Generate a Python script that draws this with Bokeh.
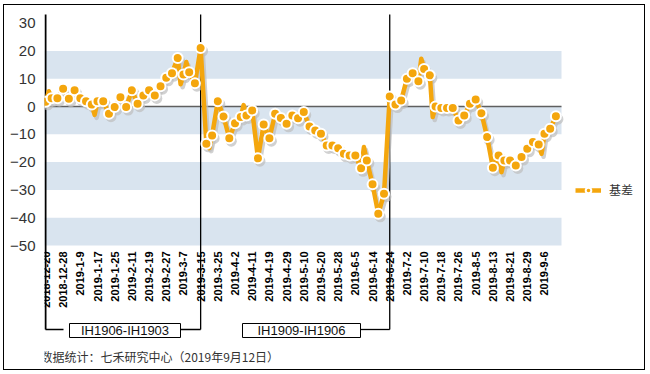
import numpy as np
from bokeh.plotting import figure
from bokeh.models import Range1d, FixedTicker, BoxAnnotation, Legend, LegendItem, ColumnDataSource
from bokeh.core.properties import value
from bokeh.embed import file_html
from bokeh.resources import INLINE

# ---------------- data ----------------
tick_labels = ["2018-12-20", "2018-12-28", "2019-1-9", "2019-1-17", "2019-1-25",
               "2019-2-11", "2019-2-19", "2019-2-27", "2019-3-7", "2019-3-15",
               "2019-3-25", "2019-4-2", "2019-4-11", "2019-4-19", "2019-4-29",
               "2019-5-10", "2019-5-20", "2019-5-28", "2019-6-5", "2019-6-14",
               "2019-6-24", "2019-7-2", "2019-7-10", "2019-7-18", "2019-7-26",
               "2019-8-5", "2019-8-13", "2019-8-21", "2019-8-29", "2019-9-6"]
tick_days = [0, 6, 12, 18, 24, 30, 36, 42, 48, 54, 60, 66, 72, 78, 84,
             90, 96, 102, 108, 114, 120, 126, 132, 138, 144, 150, 156, 162, 168, 174]

# trading-day number and basis value
days = [0, 1, 2, 4, 6, 8, 10, 12, 14, 16, 17, 18, 20, 22, 24, 26, 28, 30, 32, 34,
        36, 38, 40, 42, 44, 46, 47, 48, 49, 50, 52, 54, 56, 57, 58, 60, 62, 64, 66,
        68, 69, 70, 72, 74, 76, 78, 80, 82, 84, 86, 88, 90, 92, 94, 96, 98, 100,
        102, 104, 106, 108, 110, 111, 112, 114, 116, 118, 120, 122, 124, 126, 128,
        130, 131, 132, 134, 135, 136, 138, 140, 142, 144, 146, 148, 150, 152, 154,
        156, 158, 159, 160, 162, 164, 166, 168, 170, 172, 173, 174, 176, 178]
basis = [1.7, 5.5, 3.0, 3.0, 6.4, 2.8, 5.8, 3.0, 1.9, 0.7, -3.0, 1.9, 1.9, -2.6, -0.2,
         3.3, -0.2, 5.8, 1.0, 4.0, 5.8, 4.0, 7.3, 10.3, 12.0, 17.4, 8.0, 11.5, 16.0,
         12.3, 8.4, 21.0, -13.4, -15.0, -10.4, 1.9, -3.6, -11.4, -6.0, -3.8, 0.5,
         -3.2, -1.4, -18.6, -6.5, -11.4, -2.6, -4.1, -6.2, -3.2, -4.2, -2.0, -7.2,
         -8.6, -9.8, -14.0, -14.0, -15.0, -17.0, -17.6, -17.6, -22.2, -14.6, -19.4,
         -28.0, -38.6, -31.4, 3.6, 0.7, 2.2, 10.0, 12.0, 9.1, 17.2, 13.5, 11.2, -3.8,
         0.0, -0.5, -0.5, -0.5, -5.0, -3.2, 1.0, 2.5, -2.4, -11.0, -22.0, -17.6,
         -23.6, -19.4, -19.4, -21.2, -18.2, -15.2, -12.8, -13.7, -17.0, -9.8, -8.0, -3.5]

contract_splits = [0, 54, 120]
contract_names = ["IH1906-IH1903", "IH1909-IH1906"]
series_name = "基差"
source_note = "数据统计：七禾研究中心（2019年9月12日）"
y_ticks = [-50, -40, -30, -20, -10, 0, 10, 20, 30]
band_ranges = [(10, 20), (-10, 0), (-30, -20), (-50, -40)]

# ---------------- layout / styling ----------------
ORANGE = "#F4A60D"
SHADOW = "#bdbdbd"
BAND = "#d9e4ef"
LATIN = "Liberation Sans"
CJK = "Noto Sans CJK SC"

W, H = 642, 366               # canvas size (inside 1px border)
OX, OY = 4, 5                 # canvas origin on page
FRAME_L = 44                  # page x of plot frame left
PX_X = 2.865                  # px per trading day
PX_Y = 2.781                  # px per basis unit
ZERO_PY = 106.0               # page y of basis 0

def vx(px):                   # page x -> data x
    return -0.5 + (px - FRAME_L) / PX_X

def vy(py):                   # page y -> data y
    return (ZERO_PY - py) / PX_Y

x0, x1 = vx(FRAME_L), vx(OX + W)
y0, y1 = vy(OY + H), vy(OY)
plot_right = vx(561)
line_top, bracket_y = vy(14), vy(329)

p = figure(width=W, height=H, output_backend="svg", toolbar_location=None,
           x_range=Range1d(x0, x1), y_range=Range1d(y0, y1),
           min_border_left=FRAME_L - OX, min_border_right=0, min_border_top=0,
           min_border_bottom=0)
p.outline_line_color = None
p.grid.visible = False
p.xaxis.visible = False
p.background_fill_color = "white"
p.border_fill_color = "white"
p.styles = {"border": "1px solid #000", "margin-left": "3px", "margin-top": "4px"}

# bands + zero line
for lo, hi in band_ranges:
    p.add_layout(BoxAnnotation(left=x0, right=plot_right, bottom=lo, top=hi,
                               fill_color=BAND, fill_alpha=1, line_color=None,
                               level="underlay"))
p.segment(x0=[x0], y0=[0], x1=[plot_right], y1=[0], line_color="#5f5f5f", line_width=1.5)

# left axis line + contract separators
sep_x = [x0 + 1 / PX_X if s == 0 else s for s in contract_splits]
p.segment(x0=sep_x, y0=[line_top] * 3, x1=sep_x, y1=[bracket_y] * 3,
          line_color="black", line_width=[2, 1.3, 1.3])

# brackets with contract boxes
box_cx = [vx(124.5), vx(301)]
box_w = [111, 118]
p.segment(x0=[sep_x[0], box_cx[0] + 55.5 / PX_X, box_cx[1] + 59 / PX_X],
          y0=[bracket_y] * 3,
          x1=[vx(63), contract_splits[1], contract_splits[2]],
          y1=[bracket_y] * 3, line_color="black", line_width=1.3)
p.rect(x=box_cx, y=[vy(330)] * 2, width=box_w, height=[14, 14], width_units="screen",
       height_units="screen", fill_color="white", line_color="black", line_width=1)
p.text(x=box_cx, y=[vy(330)] * 2, text=contract_names, text_align="center",
       text_baseline="middle", text_font=value(LATIN), text_font_size="13px",
       text_color="#111")

# source note
p.text(x=[vx(40)], y=[vy(356)], text=[source_note], text_align="left",
       text_baseline="middle", text_font=value(CJK), text_font_size="12px",
       text_color="#333")

# x tick labels (category labels under the plot)
p.text(x=tick_days, y=[vy(251)] * len(tick_days), text=tick_labels, angle=np.pi / 2,
       text_align="right", text_baseline="middle", text_font=value(LATIN),
       text_font_size="11px", text_font_style="bold", text_color="#000")

# series
src = ColumnDataSource(dict(x=days, y=basis))
mk = ColumnDataSource(dict(x=[d for d in days if d % 2 == 0],
                           y=[v for d, v in zip(days, basis) if d % 2 == 0]))
dx, dy = 2 / PX_X, -3 / PX_Y
shadow_src = ColumnDataSource(dict(x=[d + dx for d in days], y=[v + dy for v in basis]))
shadow_mk = ColumnDataSource(dict(x=[d + dx for d in mk.data["x"]],
                                  y=[v + dy for v in mk.data["y"]]))
p.line("x", "y", source=shadow_src, line_color=SHADOW, line_width=4.5, line_alpha=0.7,
       line_join="round")
p.scatter("x", "y", source=shadow_mk, size=11, fill_color=SHADOW, fill_alpha=0.7,
          line_color=None)
lr = p.line("x", "y", source=src, line_color=ORANGE, line_width=4.5, line_join="round")
sr = p.scatter("x", "y", source=mk, size=10, fill_color=ORANGE, line_color="white",
               line_width=2)

# y axis
ya = p.yaxis[0]
ya.ticker = FixedTicker(ticks=y_ticks)
ya.axis_line_color = None
ya.major_tick_line_color = None
ya.minor_tick_line_color = None
ya.major_label_standoff = 3
ya.major_label_text_font = LATIN
ya.major_label_text_font_size = "15px"
ya.major_label_text_color = "#333"

legend = Legend(items=[LegendItem(label=series_name, renderers=[lr, sr])],
                location=(531, 173), padding=0, margin=0, spacing=0,
                border_line_color=None, background_fill_alpha=0,
                glyph_width=26, glyph_height=14, label_standoff=8,
                label_text_font=CJK, label_text_font_size="12px", label_text_color="#333")
p.add_layout(legend)

open("out.html", "w").write(file_html(p, INLINE))
